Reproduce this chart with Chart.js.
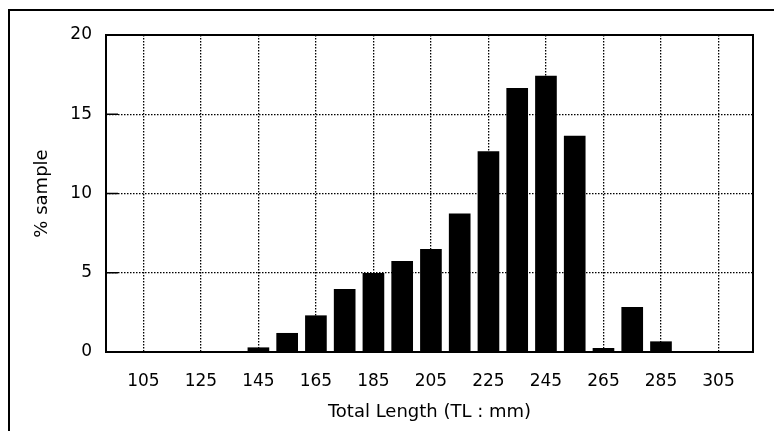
<!DOCTYPE html>
<html>
<head>
<meta charset="utf-8">
<script src="https://cdn.jsdelivr.net/npm/chart.js@4"></script>
<style>
  body { margin: 0; background: #fff; }
  #wrap { position: relative; width: 774px; height: 431px; overflow: hidden; }
  #frame { position: absolute; left: 8px; top: 9px; width: 800px; height: 460px;
           border-left: 2px solid #000; border-top: 2px solid #000; }
  canvas { position: absolute; left: 0; top: 0; }
</style>
</head>
<body>
<div id="wrap">
  <div id="frame"></div>
  <canvas id="lengthChart" width="774" height="431"></canvas>
</div>
<script>
// Data block
const lengthClasses = [105, 115, 125, 135, 145, 155, 165, 175, 185, 195, 205, 215, 225, 235, 245, 255, 265, 275, 285, 295, 305];
const percentSample = [0, 0, 0, 0, 0.27, 1.18, 2.29, 3.96, 4.97, 5.72, 6.48, 8.71, 12.64, 16.64, 17.41, 13.63, 0.23, 2.82, 0.65, 0.03, 0];
const xTickValues = [105, 125, 145, 165, 185, 205, 225, 245, 265, 285, 305];
const yTickValues = [0, 5, 10, 15, 20];

const tickFont = { family: 'DejaVu Sans', size: 17 };
const titleFont = { family: 'DejaVu Sans', size: 18 };

// Frame + inward y tick marks
const plotFrame = {
    id: 'plotFrame',
    afterDatasetsDraw(chart) {
        const { ctx, chartArea: a, scales } = chart;
        ctx.save();
        ctx.strokeStyle = '#000';
        ctx.lineWidth = 2;
        ctx.strokeRect(a.left, a.top, a.right - a.left, a.bottom - a.top);
        ctx.lineWidth = 1.5;
        yTickValues.forEach(v => {
            const y = scales.y.getPixelForValue(v);
            ctx.beginPath();
            ctx.moveTo(a.left, y);
            ctx.lineTo(a.left + 12, y);
            ctx.stroke();
        });
        ctx.restore();
    }
};

const lengthConfig = {
    type: 'bar',
    data: {
        datasets: [{
            label: '% sample',
            data: lengthClasses.map((l, i) => ({ x: l, y: percentSample[i] })),
            backgroundColor: '#000',
            borderWidth: 0,
            barThickness: 21
        }]
    },
    options: {
        responsive: false,
        animation: false,
        layout: { padding: { left: 23, top: 35, right: 21, bottom: 0 } },
        plugins: {
            legend: { display: false },
            tooltip: { enabled: false }
        },
        scales: {
            x: {
                type: 'linear',
                min: 92,
                max: 317,
                offset: false,
                afterBuildTicks: (scale) => { scale.ticks = xTickValues.map(v => ({ value: v })); },
                afterFit: (scale) => { scale.height = 79; },
                grid: {
                    offset: false,
                    drawTicks: false,
                    color: '#000',
                    lineWidth: 1.3
                },
                border: { display: false, dash: [1.5, 1.5] },
                ticks: {
                    color: '#000',
                    font: tickFont,
                    padding: 19,
                    maxRotation: 0,
                    autoSkip: false
                },
                title: {
                    display: true,
                    text: 'Total Length (TL : mm)',
                    color: '#000',
                    font: titleFont,
                    padding: { top: 4, bottom: 8 }
                }
            },
            y: {
                min: 0,
                max: 20,
                afterBuildTicks: (scale) => { scale.ticks = yTickValues.map(v => ({ value: v })); },
                afterFit: (scale) => { scale.width = 83; },
                grid: {
                    drawTicks: false,
                    color: (c) => (c.tick && (c.tick.value === 0 || c.tick.value === 20)) ? 'rgba(0,0,0,0)' : '#000',
                    lineWidth: 1.3
                },
                border: { display: false, dash: [1.5, 1.5] },
                ticks: {
                    color: '#000',
                    font: tickFont,
                    padding: 14
                },
                title: {
                    display: true,
                    text: '% sample',
                    color: '#000',
                    font: titleFont,
                    padding: { top: 9, bottom: 0 }
                }
            }
        }
    },
    plugins: [plotFrame]
};

const lengthChart = new Chart(
    document.getElementById('lengthChart'),
    lengthConfig
);
</script>
</body>
</html>
